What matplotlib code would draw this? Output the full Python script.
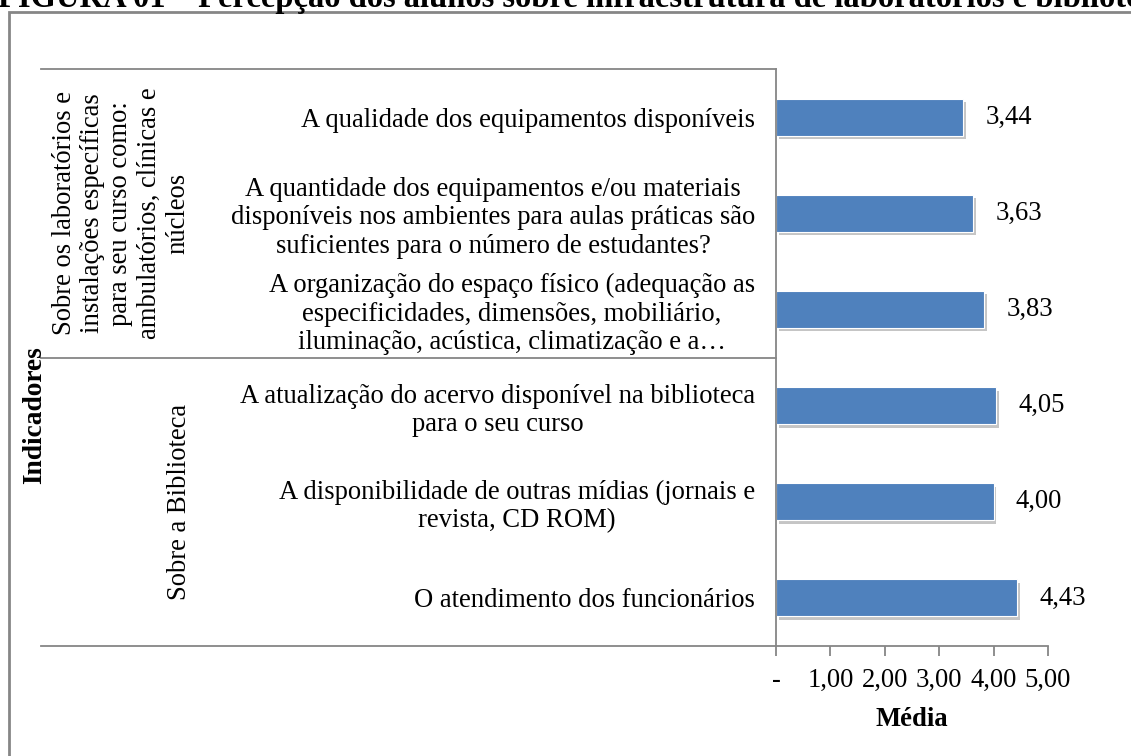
import matplotlib
matplotlib.use("Agg")
import matplotlib.pyplot as plt
import matplotlib.patheffects as pe
from matplotlib.patches import Rectangle
from matplotlib.transforms import blended_transform_factory

plt.rcParams['font.family'] = ['Liberation Serif', 'DejaVu Serif']

# Data
indicadores = [
    "A qualidade dos equipamentos disponíveis",
    "A quantidade dos equipamentos e/ou materiais\ndisponíveis nos ambientes para aulas práticas são\nsuficientes para o número de estudantes?",
    "A organização do espaço físico (adequação as\nespecificidades, dimensões, mobiliário,\niluminação, acústica, climatização e a…",
    "A atualização do acervo disponível na biblioteca\npara o seu curso",
    "A disponibilidade de outras mídias (jornais e\nrevista, CD ROM)",
    "O atendimento dos funcionários",
]
medias = [3.44, 3.63, 3.83, 4.05, 4.00, 4.43]
grupos = [
    "Sobre os laboratórios e\ninstalações específicas\npara seu curso como:\nambulatórios, clínicas e\nnúcleos",
    "Sobre a Biblioteca",
]
grupo_tamanho = [3, 3]
xticks = [0, 1, 2, 3, 4, 5]
xticklabels = ["-", "1,00", "2,00", "3,00", "4,00", "5,00"]

W, H = 1131, 756
fig = plt.figure(figsize=(W / 100, H / 100), dpi=100)
fig.patch.set_facecolor("white")

# axes placed in pixel coords
x0, x1, ytop, ybot = 776, 1048, 69, 646
ax = fig.add_axes([x0 / W, 1 - ybot / H, (x1 - x0) / W, (ybot - ytop) / H])

grey = "#868686"
fs = 19.2

pos = list(range(len(medias)))
bars = ax.barh(pos, medias, height=0.385, color="#4F81BD", edgecolor="white", linewidth=0.8)
for b in bars:
    b.set_path_effects([pe.SimplePatchShadow(offset=(2, -2.5), shadow_rgbFace="#7f7f7f", alpha=0.45),
                        pe.Normal()])

for p, v in zip(pos, medias):
    ax.annotate(f"{v:.2f}".replace(".", ","), (v, p), xytext=(16, 0), textcoords="offset points",
                ha="left", va="center", fontsize=fs)

ax.set_xlim(0, 5)
ax.set_ylim(len(medias) - 0.5, -0.5)
ax.set_xticks(xticks)
ax.set_xticklabels(xticklabels, fontsize=fs)
ax.set_yticks(pos)
ax.set_yticklabels(indicadores, fontsize=fs, multialignment="center", linespacing=1.18)
ax.tick_params(axis="y", length=0, pad=15)
ax.tick_params(axis="x", length=7, width=1.3, color=grey, direction="out", pad=9)
ax.set_xlabel("Média", fontsize=fs, fontweight="bold", labelpad=10)

for s in ["top", "right"]:
    ax.spines[s].set_visible(False)
for s in ["left", "bottom"]:
    ax.spines[s].set_color(grey)
    ax.spines[s].set_linewidth(1.3)

# group separator lines and group labels (left of axes)
tr = blended_transform_factory(fig.transFigure, ax.transData)
xl = 41 / W
start = -0.5
group_x = [121 / W, 180 / W]
bounds = [start]
for n in grupo_tamanho:
    bounds.append(bounds[-1] + n)
for b in bounds:
    ax.plot([xl, x0 / W], [b, b], color=grey, lw=1.3, transform=tr, clip_on=False)
for g, gx, a, b in zip(grupos, group_x, bounds[:-1], bounds[1:]):
    ax.text(gx, (a + b) / 2, g, transform=tr, rotation=90, ha="center", va="center",
            multialignment="center", fontsize=fs, linespacing=1.17)

fig.text(35 / W, 1 - 415 / H, "Indicadores", rotation=90, ha="center", va="center",
         fontsize=fs + 0.5, fontweight="bold")

# outer frame and clipped title
fig.patches.append(Rectangle((9 / W, -0.1), 1.2, 1.1 - 12 / H, transform=fig.transFigure,
                             fill=False, edgecolor=grey, lw=2))
fig.text(-2 / W, 1 - 7 / H, "FIGURA 01 – Percepção dos alunos sobre infraestrutura de laboratórios e biblioteca",
         ha="left", va="baseline", fontsize=23.5, fontweight="bold")

fig.savefig("out.png", dpi=100)
